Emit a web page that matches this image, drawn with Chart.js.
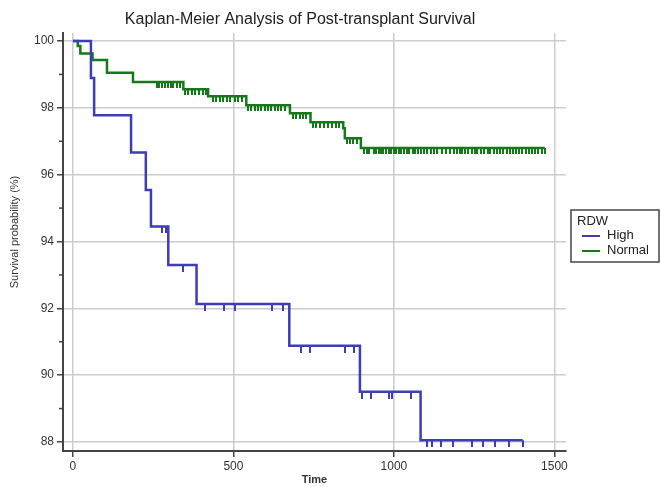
<!DOCTYPE html>
<html>
<head>
<meta charset="utf-8">
<title>Kaplan-Meier Analysis of Post-transplant Survival</title>
<script src="https://cdn.jsdelivr.net/npm/chart.js@4.4.1/dist/chart.umd.min.js"></script>
<style>
  html, body { margin: 0; padding: 0; background: #fff; }
  #wrap { width: 661px; height: 487px; }
</style>
</head>
<body>
<div id="wrap"><canvas id="chart"></canvas></div>
<script>
// event times and survival (%) after each step, per RDW group
const highTimes = [0, 56, 66, 181, 227, 243, 297, 385, 674, 894, 1083];
const highSurv = [100, 98.89, 97.78, 96.66, 95.54, 94.45, 93.3, 92.13, 90.88, 89.5, 88.05];
const highEnd = 1401;
const highCensored = [276, 290, 344, 411, 471, 504, 621, 653, 709, 738, 849, 875,
  899, 927, 985, 993, 1053, 1102, 1117, 1148, 1184, 1242, 1278, 1315, 1359, 1401];

const normalTimes = [0, 15, 23, 61, 106, 187, 344, 421, 540, 676, 740, 842, 847, 897];
const normalSurv = [100, 99.85, 99.63, 99.43, 99.05, 98.77, 98.56, 98.35, 98.08, 97.84, 97.57, 97.39, 97.09, 96.8];
const normalEnd = 1470;
const normalCensored = [261, 269, 278, 288, 297, 306, 313, 324, 334,
  349, 359, 370, 380, 393, 405, 416,
  437, 447, 458, 468, 480, 490, 504, 514, 527,
  546, 556, 566, 575, 587, 597, 607, 618, 628, 638, 648, 660,
  686, 696, 706, 716, 726,
  748, 758, 771, 782, 795, 806, 818, 830,
  853, 863, 872, 884,
  908, 915, 922, 938, 945, 952, 960, 967, 975, 984, 992, 1000, 1007, 1015, 1022,
  1032, 1040, 1048, 1058, 1066, 1074, 1084, 1094, 1104, 1115, 1125, 1135, 1149,
  1161, 1174, 1187, 1197, 1206, 1213, 1222, 1232, 1243, 1252, 1260, 1271, 1282,
  1292, 1300, 1312, 1322, 1331, 1340, 1352, 1363, 1372, 1381, 1390, 1400, 1410,
  1420, 1431, 1440, 1450, 1460, 1470];

const xTicks = [0, 500, 1000, 1500];
const yTicks = [88, 89, 90, 91, 92, 93, 94, 95, 96, 97, 98, 99, 100];

const blue = '#3d3db5';
const green = '#15791a';
const axisColor = '#444';
const gridColor = '#cccccc';
const fontFamily = '"Liberation Sans", Arial, sans-serif';

Chart.defaults.font.family = fontFamily;

function stepPoints(times, surv, end) {
  const pts = times.map((t, i) => ({x: t, y: surv[i]}));
  pts.push({x: end, y: surv[surv.length - 1]});
  return pts;
}

// survival level in force at time t
function levelAt(times, surv, t) {
  let s = surv[0];
  times.forEach((ti, i) => { if (ti <= t) s = surv[i]; });
  return s;
}

// censoring mark: short vertical stroke hanging below the curve
function tickMark(color, len) {
  const c = document.createElement('canvas');
  c.width = 2;
  c.height = len * 2;
  const g = c.getContext('2d');
  g.fillStyle = color;
  g.fillRect(0, len, 2, len);
  return c;
}

const decor = {
  id: 'decor',
  afterDraw(chart) {
    const {ctx, chartArea: a, scales: {y}} = chart;
    ctx.save();

    // short ticks at odd percentages
    ctx.strokeStyle = axisColor;
    ctx.lineWidth = 1.5;
    yTicks.filter(v => v % 2 !== 0).forEach(v => {
      const py = y.getPixelForValue(v);
      ctx.beginPath();
      ctx.moveTo(a.left - 4, py);
      ctx.lineTo(a.left, py);
      ctx.stroke();
    });

    // chart title
    ctx.fillStyle = '#222';
    ctx.font = '16px ' + fontFamily;
    ctx.textAlign = 'center';
    ctx.textBaseline = 'middle';
    ctx.fillText('Kaplan-Meier Analysis of Post-transplant Survival', 300, 20);

    // y axis title
    ctx.save();
    ctx.translate(15, 232);
    ctx.rotate(-Math.PI / 2);
    ctx.font = '11px ' + fontFamily;
    ctx.fillStyle = '#333';
    ctx.fillText('Survival probability (%)', 0, 0);
    ctx.restore();

    // legend box
    const lx = a.right + 5, ly = 210, lw = 88, lh = 52;
    ctx.strokeStyle = axisColor;
    ctx.lineWidth = 1.5;
    ctx.strokeRect(lx, ly, lw, lh);
    ctx.font = '13px ' + fontFamily;
    ctx.textAlign = 'left';
    ctx.fillStyle = '#222';
    ctx.fillText('RDW', lx + 6, ly + 11);
    const items = chart.data.datasets.filter(d => !d.censor);
    items.forEach((d, i) => {
      const iy = ly + 26 + i * 15;
      ctx.strokeStyle = d.borderColor;
      ctx.lineWidth = 2;
      ctx.beginPath();
      ctx.moveTo(lx + 11, iy);
      ctx.lineTo(lx + 29, iy);
      ctx.stroke();
      ctx.fillStyle = '#222';
      ctx.fillText(d.label, lx + 36, iy - 1);
    });
    ctx.restore();
  }
};

new Chart(document.getElementById('chart'), {
  type: 'scatter',
  data: {
    datasets: [
      {
        label: 'High',
        data: stepPoints(highTimes, highSurv, highEnd),
        showLine: true,
        stepped: 'before',
        borderColor: blue,
        borderWidth: 2.5,
        pointRadius: 0
      },
      {
        label: 'Normal',
        data: stepPoints(normalTimes, normalSurv, normalEnd),
        showLine: true,
        stepped: 'before',
        borderColor: green,
        borderWidth: 2.5,
        pointRadius: 0
      },
      {
        label: 'High censored',
        censor: true,
        data: highCensored.map(t => ({x: t, y: levelAt(highTimes, highSurv, t)})),
        pointStyle: tickMark(blue, 7),
        pointRadius: 3
      },
      {
        label: 'Normal censored',
        censor: true,
        data: normalCensored.map(t => ({x: t, y: levelAt(normalTimes, normalSurv, t)})),
        pointStyle: tickMark(green, 6),
        pointRadius: 3
      }
    ]
  },
  options: {
    responsive: true,
    maintainAspectRatio: false,
    animation: false,
    devicePixelRatio: 1,
    layout: { padding: { top: 33, right: 95, left: 0, bottom: 0 } },
    plugins: {
      legend: { display: false },
      title: { display: false },
      tooltip: { enabled: false }
    },
    scales: {
      x: {
        type: 'linear',
        min: -31,
        max: 1536,
        afterBuildTicks: s => { s.ticks = xTicks.map(v => ({value: v})); },
        afterFit: s => { s.height = 36; },
        grid: { color: gridColor, lineWidth: 1.5, tickColor: axisColor, tickLength: 6, tickWidth: 1.5 },
        border: { color: axisColor, width: 2 },
        ticks: { color: '#333', font: { size: 12 }, padding: 2, maxRotation: 0, autoSkip: false, callback: v => String(v) },
        title: { display: true, text: 'Time', color: '#333', font: { size: 11, weight: 'bold' }, padding: 0 }
      },
      y: {
        type: 'linear',
        min: 87.73,
        max: 100.24,
        afterBuildTicks: s => { s.ticks = yTicks.map(v => ({value: v})); },
        afterFit: s => { s.width = 63; },
        grid: {
          color: c => (c.tick && c.tick.value % 2 === 0) ? gridColor : 'rgba(0,0,0,0)',
          lineWidth: 1.5,
          tickColor: c => (c.tick && c.tick.value % 2 === 0) ? axisColor : 'rgba(0,0,0,0)',
          tickLength: 6,
          tickWidth: 1.5
        },
        border: { color: axisColor, width: 2 },
        ticks: {
          color: '#333',
          font: { size: 12 },
          padding: 3,
          autoSkip: false,
          callback: v => (v % 2 === 0 ? String(v) : '')
        }
      }
    }
  },
  plugins: [decor]
});
</script>
</body>
</html>
